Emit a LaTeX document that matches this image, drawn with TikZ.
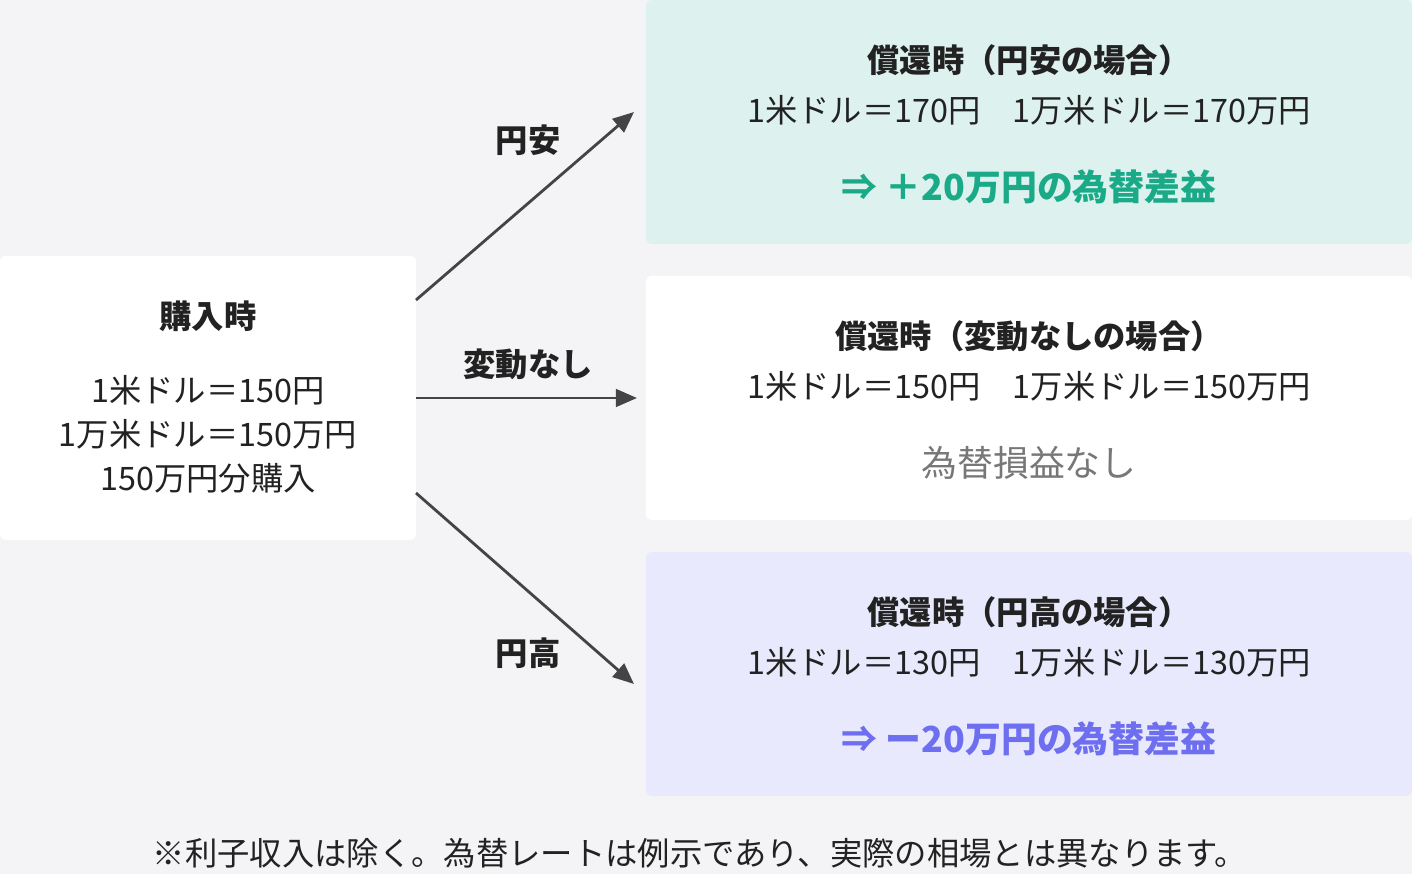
\documentclass[tikz,border=0pt]{standalone}
\usepackage{fontspec}
\setmainfont{Noto Sans CJK JP}
\usetikzlibrary{arrows.meta}
\definecolor{bg}{HTML}{F4F4F6}
\definecolor{upc}{HTML}{DDF2EE}
\definecolor{dnc}{HTML}{E8E9FC}
\definecolor{grn}{HTML}{1AAA88}
\definecolor{blu}{HTML}{6E6EF0}
\definecolor{gry}{HTML}{777777}
\definecolor{ink}{HTML}{222222}
\definecolor{arr}{HTML}{444444}
\begin{document}
\begin{tikzpicture}[x=0.02cm,y=-0.02cm,
  t/.style={font=\fontsize{18.4}{22}\selectfont,text=ink,inner sep=0pt},
  tb/.style={t,font=\fontsize{18.4}{22}\selectfont\bfseries},
  res/.style={inner sep=0pt,font=\fontsize{20.4}{24}\selectfont\bfseries},
  ar/.style={draw=arr,line width=1.6pt,-{Triangle[length=12pt,width=10pt]}}]
\fill[bg] (0,0) rectangle (1412,874);
\useasboundingbox (0,0) rectangle (1412,874);
\fill[white,rounded corners=3pt] (0,256) rectangle (416,540);
\fill[upc,rounded corners=3pt] (646,0) rectangle (1412,244);
\fill[white,rounded corners=3pt] (646,276) rectangle (1412,520);
\fill[dnc,rounded corners=3pt] (646,552) rectangle (1412,796);
\node[tb] (buy) at (208,316) {購入時};
\node[t] (b1) at (208,390) {1米ドル＝150円};
\node[t] (b2) at (208,434) {1万米ドル＝150万円};
\node[t] (b3) at (208,478) {150万円分購入};
\node[tb] (ut) at (1029,60) {償還時（円安の場合）};
\node[t] (u1) at (1029,110) {1米ドル＝170円　1万米ドル＝170万円};
\node[res,text=grn] (u2) at (1029,187) {⇒ ＋20万円の為替差益};
\node[tb] (mt) at (1029,336) {償還時（変動なしの場合）};
\node[t] (m1) at (1029,386) {1米ドル＝150円　1万米ドル＝150万円};
\node[res,text=gry,font=\fontsize{20.4}{24}\selectfont] (m2) at (1029,463) {為替損益なし};
\node[tb] (dt) at (1029,612) {償還時（円高の場合）};
\node[t] (d1) at (1029,662) {1米ドル＝130円　1万米ドル＝130万円};
\node[res,text=blu] (d2) at (1029,739) {⇒ ー20万円の為替差益};
\coordinate (s1) at (416,300); \coordinate (e1) at (634,112);
\coordinate (s2) at (416,398); \coordinate (e2) at (637,398);
\coordinate (s3) at (416,493); \coordinate (e3) at (634,684);
\draw[ar] (s1) -- (e1);
\draw[ar] (s2) -- (e2);
\draw[ar] (s3) -- (e3);
\node[tb] (l1) at (528,140) {円安};
\node[tb] (l2) at (528,364) {変動なし};
\node[tb] (l3) at (528,653) {円高};
\node[t] (fn) at (700,853) {※利子収入は除く。為替レートは例示であり、実際の相場とは異なります。};
\end{tikzpicture}
\end{document}
